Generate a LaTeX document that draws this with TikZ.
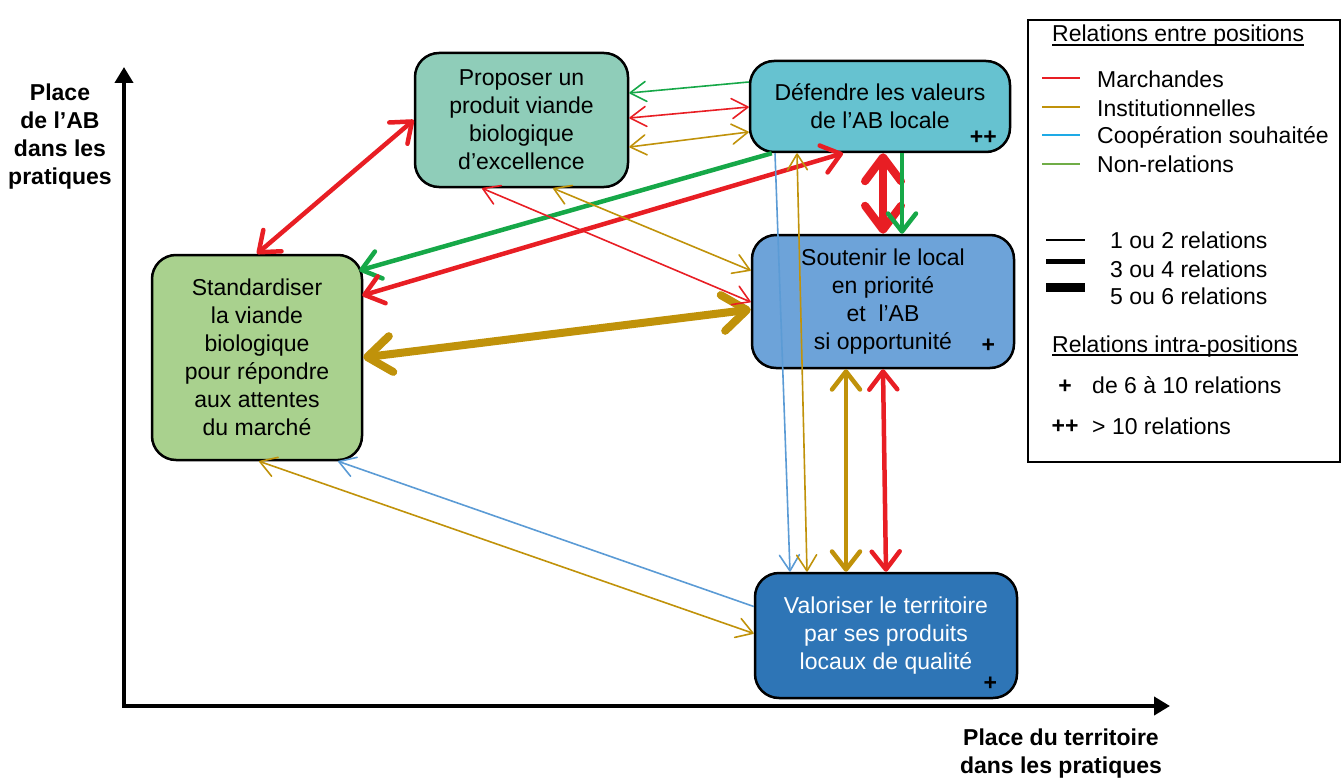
\documentclass[tikz,border=0pt]{standalone}
\usepackage{fontspec}
\setmainfont{Liberation Sans}
\usetikzlibrary{arrows.meta,calc}
\definecolor{cred}{RGB}{232,30,36}
\definecolor{cgold}{RGB}{192,146,10}
\definecolor{cblue}{RGB}{91,155,213}
\definecolor{cgreen}{RGB}{22,168,72}
\definecolor{lblue}{RGB}{30,170,230}
\definecolor{lgreen}{RGB}{112,173,71}
\definecolor{cprop}{RGB}{143,205,185}
\definecolor{cdef}{RGB}{102,194,208}
\definecolor{csout}{RGB}{109,163,217}
\definecolor{cstd}{RGB}{169,209,142}
\definecolor{cval}{RGB}{46,117,182}
\begin{document}
\begin{tikzpicture}[x=1pt,y=-1pt,
  box/.style={draw=black,line width=2.5pt,rounded corners=24pt,inner sep=0pt,align=center,font=\fontsize{23}{28}\selectfont},
  lbl/.style={font=\fontsize{23}{28}\selectfont,inner sep=0pt},
  bold/.style={font=\bfseries\fontsize{23}{28}\selectfont,inner sep=0pt,align=center},
  thinln/.style={line width=1.6pt,>={Straight Barb[length=16pt,width=20pt,round]}},
  medln/.style={line width=4.5pt,>={Straight Barb[length=18pt,width=28pt,round]}},
  thickln/.style={line width=8pt,>={Straight Barb[length=24pt,width=36pt,round]}},
  axis/.style={line width=4pt,line join=miter},
  legline/.style={line width=2.5pt},
]
\useasboundingbox (0,0) rectangle (1344,781);

% axes
\coordinate (ytop) at (124,67);
\coordinate (orig) at (124,706);
\coordinate (xend) at (1170,706);
\draw[axis,{Triangle[length=16pt,width=18pt]}-{Triangle[length=16pt,width=18pt]}] (ytop) -- (orig) -- (xend);
\node[bold] (ylab) at (60,137) {Place\\de l’AB\\dans les\\pratiques};
\node[bold] (xlab) at (1061,754) {Place du territoire\\dans les pratiques};

% boxes
\node[box,fill=cprop,minimum width=213pt,minimum height=134pt] (prop) at (521.5,120) {Proposer un\\produit viande\\biologique\\d’excellence};
\node[box,fill=cdef,minimum width=260pt,minimum height=91pt] (def) at (880,106.5) {Défendre les valeurs\\de l’AB locale};
\node[box,fill=csout,minimum width=262pt,minimum height=133pt] (sout) at (883,301.5) {Soutenir le local\\en priorité\\et\ \ l’AB\\si opportunité};
\node[box,fill=cstd,minimum width=210pt,minimum height=205pt] (std) at (257,357.5) {Standardiser\\la viande\\biologique\\pour répondre\\aux attentes\\du marché};
\node[box,fill=cval,text=white,minimum width=262pt,minimum height=125pt] (val) at (886,635.5) {Valoriser le territoire\\par ses produits\\locaux de qualité};

\node[bold] (defpp) at ($(def.south east)+(-28,-15)$) {++};
\node[bold] (soutp) at ($(sout.south east)+(-27,-23)$) {+};
\node[bold] (valp) at ($(val.south east)+(-28,-15)$) {+};

% connectors
\draw[cred,medln,<->] (std.north) -- (prop.west);
\draw[cgreen,medln,->] ($(def.south west)+(23,0)$) -- ($(std.east)+(-4,-87)$);
\draw[cred,medln,<->] ($(std.east)+(-1,-62)$) -- ($(def.south)+(-37,0)$);
\draw[cgold,thickln,<->] (std.east) -- ($(sout.west)+(0,8)$);
\draw[cgreen,thinln,->] ($(def.west)+(0,-24.5)$) -- ($(prop.east)+(0,-27)$);
\draw[cred,thinln,<->] ($(prop.east)+(0,-2)$) -- ($(def.west)+(0,0.5)$);
\draw[cgold,thinln,<->] ($(prop.east)+(0,27)$) -- ($(def.west)+(0,25.5)$);
\draw[cred,thinln,<->] ($(prop.south)+(-39.5,0)$) -- ($(sout.west)+(0,0.5)$);
\draw[cgold,thinln,<->] ($(prop.south)+(31.5,0)$) -- ($(sout.west)+(0,-31)$);
\draw[cred,thickln,<->] ($(def.south)+(3,0)$) -- (sout.north);
\draw[cgreen,medln,->] ($(def.south)+(22,0)$) -- ($(sout.north)+(19,0)$);
\draw[cblue,thinln,->] ($(def.south)+(-105,0)$) -- ($(val.north)+(-96,0)$);
\draw[cgold,thinln,<->] ($(val.north)+(-79,0)$) -- ($(def.south)+(-83,0)$);
\draw[cgold,medln,<->] ($(sout.south)+(-37,0)$) -- ($(val.north)+(-40,0)$);
\draw[cred,medln,<->] (sout.south) -- (val.north);
\draw[cblue,thinln,->] ($(val.west)+(0,-29)$) -- ($(std.south)+(81,0)$);
\draw[cgold,thinln,<->] ($(val.west)+(0,-2)$) -- ($(std.south)+(2,0)$);

% legend
\node[draw=black,line width=2pt,minimum width=312pt,minimum height=442pt,inner sep=0pt] (leg) at (1184,241) {};
\node[lbl,anchor=base west] (lt1) at (1052,42) {Relations entre positions};
\draw[line width=1.5pt] ($(lt1.base west)+(0,3)$) -- ($(lt1.base east)+(0,3)$);
\coordinate (r1a) at (1042,78); \coordinate (r1b) at (1080,78);
\coordinate (r2a) at (1042,107); \coordinate (r2b) at (1080,107);
\coordinate (r3a) at (1042,135); \coordinate (r3b) at (1080,135);
\coordinate (r4a) at (1042,164); \coordinate (r4b) at (1080,164);
\draw[legline,cred] (r1a) -- (r1b);
\draw[legline,cgold] (r2a) -- (r2b);
\draw[legline,lblue] (r3a) -- (r3b);
\draw[legline,lgreen] (r4a) -- (r4b);
\node[lbl,anchor=base west] (lm) at (1097,88) {Marchandes};
\node[lbl,anchor=base west] (li) at (1097,117) {Institutionnelles};
\node[lbl,anchor=base west] (lc) at (1097,144) {Coopération souhaitée};
\node[lbl,anchor=base west] (ln) at (1097,172) {Non-relations};
\coordinate (w1a) at (1046,240); \coordinate (w1b) at (1085,240);
\coordinate (w2a) at (1046,261); \coordinate (w2b) at (1085,261);
\coordinate (w3a) at (1046,287); \coordinate (w3b) at (1085,287);
\draw[line width=1.2pt] (w1a) -- (w1b);
\draw[line width=5pt] (w2a) -- (w2b);
\draw[line width=9pt] (w3a) -- (w3b);
\node[lbl,anchor=base west] (l12) at (1110,248) {1 ou 2 relations};
\node[lbl,anchor=base west] (l34) at (1110,277) {3 ou 4 relations};
\node[lbl,anchor=base west] (l56) at (1110,304) {5 ou 6 relations};
\node[lbl,anchor=base west] (lt2) at (1052,352) {Relations intra-positions};
\draw[line width=1.5pt] ($(lt2.base west)+(0,3)$) -- ($(lt2.base east)+(0,3)$);
\node[bold,anchor=base] (lp) at (1065,393) {+};
\node[lbl,anchor=base west] (lpt) at (1092,393) {de 6 à 10 relations};
\node[bold,anchor=base] (lpp) at (1065,433) {++};
\node[lbl,anchor=base west] (lppt) at (1092,434) {> 10 relations};
\end{tikzpicture}
\end{document}
